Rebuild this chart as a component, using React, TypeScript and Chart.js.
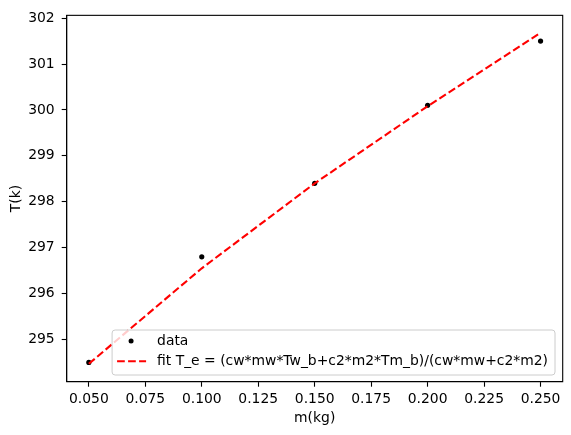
import { useEffect, useRef } from "react";
import { Chart, registerables } from "chart.js";

Chart.register(...registerables);

// measured values
const massKg = [0.05, 0.1, 0.15, 0.2, 0.25];
const tempData = [294.5, 296.8, 298.4, 300.1, 301.5];
const tempFit = [294.47, 296.55, 298.4, 300.08, 301.68];

const xTicks = [0.05, 0.075, 0.1, 0.125, 0.15, 0.175, 0.2, 0.225, 0.25];
const yTicks = [295, 296, 297, 298, 299, 300, 301, 302];

const FONT = "'DejaVu Sans', sans-serif";
const FONT_SIZE = 13.9;
const FIT_LABEL = "fit T_e = (cw*mw*Tw_b+c2*m2*Tm_b)/(cw*mw+c2*m2)";

// draws the box around the axes and the legend inside it, like matplotlib
const framePlugin = {
  id: "frameAndLegend",
  afterDraw(chart: any) {
    const ctx = chart.ctx as CanvasRenderingContext2D;
    const { left, right, top, bottom } = chart.chartArea;

    ctx.save();
    ctx.strokeStyle = "#000";
    ctx.lineWidth = 1.1;
    ctx.strokeRect(left, top, right - left, bottom - top);

    // legend
    ctx.font = `${FONT_SIZE}px ${FONT}`;
    const tw = Math.max(ctx.measureText("data").width, ctx.measureText(FIT_LABEL).width);
    const boxRight = right - 7.7;
    const boxLeft = boxRight - 45 - tw - 7;
    const boxBottom = bottom - 6.7;
    const boxTop = boxBottom - 45;

    ctx.beginPath();
    ctx.roundRect(boxLeft, boxTop, boxRight - boxLeft, boxBottom - boxTop, 3);
    ctx.fillStyle = "rgba(255,255,255,0.8)";
    ctx.fill();
    ctx.strokeStyle = "#cccccc";
    ctx.lineWidth = 1;
    ctx.stroke();

    const row1 = boxTop + 11;
    const row2 = boxTop + 31.3;

    ctx.fillStyle = "#000";
    ctx.beginPath();
    ctx.arc(boxLeft + 19, row1, 2.5, 0, Math.PI * 2);
    ctx.fill();

    ctx.strokeStyle = "#ff0000";
    ctx.lineWidth = 2.1;
    ctx.setLineDash([7.7, 3.3]);
    ctx.beginPath();
    ctx.moveTo(boxLeft + 5, row2);
    ctx.lineTo(boxLeft + 34, row2);
    ctx.stroke();
    ctx.setLineDash([]);

    ctx.fillStyle = "#000";
    ctx.textBaseline = "middle";
    ctx.textAlign = "left";
    ctx.fillText("data", boxLeft + 45, row1);
    ctx.fillText(FIT_LABEL, boxLeft + 45, row2);
    ctx.restore();
  },
};

export default function App() {
  const canvasRef = useRef<HTMLCanvasElement>(null);
  const chartRef = useRef<Chart | null>(null);

  useEffect(() => {
    document.body.style.margin = "0";
    if (!canvasRef.current) return;
    if (chartRef.current) chartRef.current.destroy();

    const tickFont = { family: FONT, size: FONT_SIZE };

    chartRef.current = new Chart(canvasRef.current, {
      type: "scatter",
      data: {
        datasets: [
          {
            label: "data",
            data: massKg.map((m, i) => ({ x: m, y: tempData[i] })),
            backgroundColor: "#000",
            borderColor: "#000",
            pointRadius: 2.6,
            pointBorderWidth: 0,
            showLine: false,
            order: 2,
          },
          {
            label: FIT_LABEL,
            data: massKg.map((m, i) => ({ x: m, y: tempFit[i] })),
            borderColor: "#ff0000",
            borderWidth: 2.1,
            borderDash: [7.7, 3.3],
            pointRadius: 0,
            showLine: true,
            fill: false,
            order: 1,
          },
        ],
      },
      options: {
        animation: false,
        responsive: true,
        maintainAspectRatio: false,
        layout: { padding: { top: 12.3, right: 8.3, left: 0, bottom: 0 } },
        plugins: {
          legend: { display: false },
          tooltip: { enabled: false },
        },
        scales: {
          x: {
            type: "linear",
            min: 0.0402,
            max: 0.2598,
            afterBuildTicks: (scale: any) => {
              scale.ticks = xTicks.map((v) => ({ value: v }));
            },
            afterFit: (scale: any) => {
              scale.height = 53.3;
            },
            ticks: {
              font: tickFont,
              color: "#000",
              padding: 4,
              maxRotation: 0,
              autoSkip: false,
              callback: (v: any) => Number(v).toFixed(3),
            },
            grid: {
              drawOnChartArea: false,
              drawTicks: true,
              tickLength: 5,
              tickColor: "#000",
              tickWidth: 1.1,
            },
            border: { display: true, color: "#000", width: 1.1 },
            title: {
              display: true,
              text: "m(kg)",
              font: tickFont,
              color: "#000",
              padding: { top: 0, bottom: 8.3 },
            },
          },
          y: {
            type: "linear",
            min: 294.08,
            max: 302.06,
            afterBuildTicks: (scale: any) => {
              scale.ticks = yTicks.map((v) => ({ value: v }));
            },
            afterFit: (scale: any) => {
              scale.width = 66.7;
            },
            ticks: {
              font: tickFont,
              color: "#000",
              padding: 7,
              autoSkip: false,
              callback: (v: any) => String(v),
            },
            grid: {
              drawOnChartArea: false,
              drawTicks: true,
              tickLength: 5,
              tickColor: "#000",
              tickWidth: 1.1,
            },
            border: { display: true, color: "#000", width: 1.1 },
            title: {
              display: true,
              text: "T(k)",
              font: tickFont,
              color: "#000",
              padding: { top: 7.7, bottom: 0 },
            },
          },
        },
      },
      plugins: [framePlugin],
    });

    return () => {
      if (chartRef.current) {
        chartRef.current.destroy();
        chartRef.current = null;
      }
    };
  }, []);

  return (
    <div style={{ width: 571, height: 435, position: "relative", background: "#fff" }}>
      <canvas ref={canvasRef}></canvas>
    </div>
  );
}
